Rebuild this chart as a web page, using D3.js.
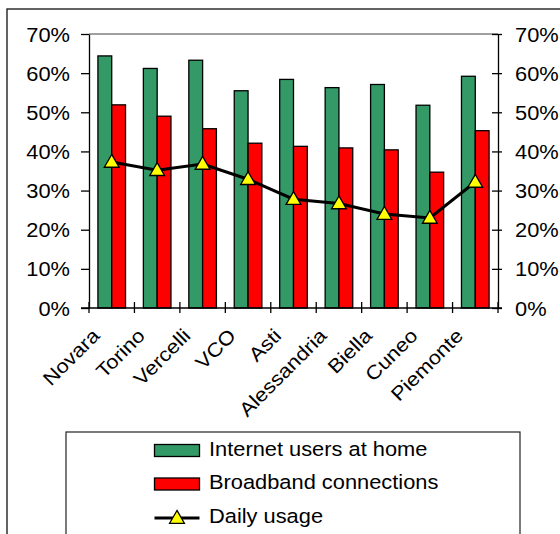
<!DOCTYPE html>
<html>
<head>
<meta charset="utf-8">
<script src="https://cdn.jsdelivr.net/npm/d3@7"></script>
<style>
  html, body { margin: 0; padding: 0; background: #fff; }
  svg { display: block; }
  text { font-family: "Liberation Sans", Arial, sans-serif; fill: #000; }
</style>
</head>
<body>
<svg id="chart" width="560" height="534"></svg>
<script>
// Provinces of Piemonte plus the regional total
const categories = ["Novara", "Torino", "Vercelli", "VCO", "Asti", "Alessandria", "Biella", "Cuneo", "Piemonte"];
// Share of households / people (fractions)
const internetHome = [0.644, 0.612, 0.633, 0.555, 0.584, 0.563, 0.571, 0.518, 0.592];
const broadband    = [0.519, 0.490, 0.458, 0.421, 0.413, 0.409, 0.404, 0.347, 0.453];
const dailyUsage   = [0.373, 0.352, 0.368, 0.329, 0.278, 0.267, 0.240, 0.230, 0.322];
const yTicks = [0, 0.1, 0.2, 0.3, 0.4, 0.5, 0.6, 0.7];
const seriesNames = ["Internet users at home", "Broadband connections", "Daily usage"];

const GREEN = "#339966", RED = "#ff0000", YELLOW = "#ffff00";
const FS = 19.5, SX = 1.12;   // label font size and horizontal stretch

const svg = d3.select("#chart");
const plot = { left: 89, right: 498, top: 34, bottom: 308 };

const x = d3.scaleBand().domain(categories).range([plot.left, plot.right]);
const y = d3.scaleLinear().domain([0, 0.7]).range([plot.bottom, plot.top]);
const barW = 13.8;

// outer frame
svg.append("rect").attr("x", 7).attr("y", 9).attr("width", 600).attr("height", 600)
  .attr("fill", "none").attr("stroke", "#222").attr("stroke-width", 1.4);

// top border of the plot area
svg.append("line").attr("x1", plot.left).attr("x2", plot.right)
  .attr("y1", y(0.7)).attr("y2", y(0.7)).attr("stroke", "#808080").attr("stroke-width", 1.3);

// bars
const groups = svg.append("g").selectAll("g").data(categories).join("g");
groups.append("rect")
  .attr("x", (d) => x(d) + x.bandwidth() / 2 - barW)
  .attr("y", (d, i) => y(internetHome[i]))
  .attr("width", barW)
  .attr("height", (d, i) => y(0) - y(internetHome[i]))
  .attr("fill", GREEN).attr("stroke", "#000").attr("stroke-width", 1.3);
groups.append("rect")
  .attr("x", (d) => x(d) + x.bandwidth() / 2)
  .attr("y", (d, i) => y(broadband[i]))
  .attr("width", barW)
  .attr("height", (d, i) => y(0) - y(broadband[i]))
  .attr("fill", RED).attr("stroke", "#000").attr("stroke-width", 1.3);

// left axis
const fmt = d3.format(".0%");
const leftAxis = svg.append("g").attr("transform", `translate(${plot.left},0)`)
  .call(d3.axisLeft(y).tickValues(yTicks).tickFormat(fmt).tickSize(8).tickSizeOuter(0));
leftAxis.selectAll("text")
  .attr("x", 0).attr("dy", "0.36em")
  .attr("transform", `translate(-19,0) scale(${SX},1)`)
  .style("font-size", FS + "px").style("font-family", "'Liberation Sans', Arial, sans-serif");

// right axis
const rightAxis = svg.append("g").attr("transform", `translate(${plot.right},0)`)
  .call(d3.axisRight(y).tickValues(yTicks).tickFormat(fmt).tickSize(4).tickSizeOuter(0));
rightAxis.selectAll(".tick line").attr("x1", -6);
rightAxis.selectAll("text")
  .attr("x", 0).attr("dy", "0.36em")
  .attr("transform", `translate(17,0) scale(${SX},1)`)
  .style("font-size", FS + "px").style("font-family", "'Liberation Sans', Arial, sans-serif");

[leftAxis, rightAxis].forEach((g) => {
  g.selectAll("path, line").attr("stroke", "#000").attr("stroke-width", 1.3);
});

// bottom axis: category labels at band centres, ticks at band edges
const bottomAxis = svg.append("g").attr("transform", `translate(0,${plot.bottom})`)
  .call(d3.axisBottom(x).tickSize(0).tickSizeOuter(0));
bottomAxis.select(".domain").remove();
bottomAxis.selectAll("text")
  .attr("y", 0).attr("dy", 0)
  .attr("text-anchor", "end")
  .attr("transform", `translate(-11,29) rotate(-45) scale(${SX},1)`)
  .style("font-size", FS + "px").style("font-family", "'Liberation Sans', Arial, sans-serif");
const edges = categories.map((c) => x(c)).concat([x.range()[1]]);
bottomAxis.append("line").attr("x1", plot.left - 8).attr("x2", plot.right + 4)
  .attr("y1", 0).attr("y2", 0).attr("stroke", "#000").attr("stroke-width", 1.3);
bottomAxis.selectAll("line.edge").data(edges).join("line").attr("class", "edge")
  .attr("x1", (d) => d).attr("x2", (d) => d).attr("y1", -6).attr("y2", 5)
  .attr("stroke", "#000").attr("stroke-width", 1.3);

// daily usage line with triangle markers
const cx = (d) => x(d) + x.bandwidth() / 2;
const line = d3.line().x((d) => cx(d)).y((d, i) => y(dailyUsage[i]));
svg.append("path").datum(categories).attr("d", line)
  .attr("fill", "none").attr("stroke", "#000").attr("stroke-width", 3);
const tri = d3.symbol(d3.symbolTriangle, 95);
svg.append("g").selectAll("path").data(categories).join("path")
  .attr("d", tri)
  .attr("transform", (d, i) => `translate(${cx(d)},${y(dailyUsage[i]) + 1})`)
  .attr("fill", YELLOW).attr("stroke", "#000").attr("stroke-width", 1.3);

// legend
const legend = svg.append("g");
legend.append("rect").attr("x", 66).attr("y", 432).attr("width", 454).attr("height", 200)
  .attr("fill", "#fff").attr("stroke", "#222").attr("stroke-width", 1.2);
const rows = [450.5, 484, 518];
const sw = { x: 154.5, w: 45 };
legend.append("rect").attr("x", sw.x).attr("y", rows[0] - 6).attr("width", sw.w).attr("height", 12)
  .attr("fill", GREEN).attr("stroke", "#000").attr("stroke-width", 1.3);
legend.append("rect").attr("x", sw.x).attr("y", rows[1] - 6).attr("width", sw.w).attr("height", 12)
  .attr("fill", RED).attr("stroke", "#000").attr("stroke-width", 1.3);
legend.append("line").attr("x1", sw.x).attr("x2", sw.x + sw.w).attr("y1", rows[2]).attr("y2", rows[2])
  .attr("stroke", "#000").attr("stroke-width", 3);
legend.append("path").attr("d", tri)
  .attr("transform", `translate(${sw.x + sw.w / 2},${rows[2] + 1})`)
  .attr("fill", YELLOW).attr("stroke", "#000").attr("stroke-width", 1.3);
legend.selectAll("text.item").data(seriesNames).join("text").attr("class", "item")
  .attr("transform", (d, i) => `translate(209,${rows[i] + 5.3}) scale(${SX},1)`)
  .style("font-size", FS + "px")
  .text((d) => d);
</script>
</body>
</html>
